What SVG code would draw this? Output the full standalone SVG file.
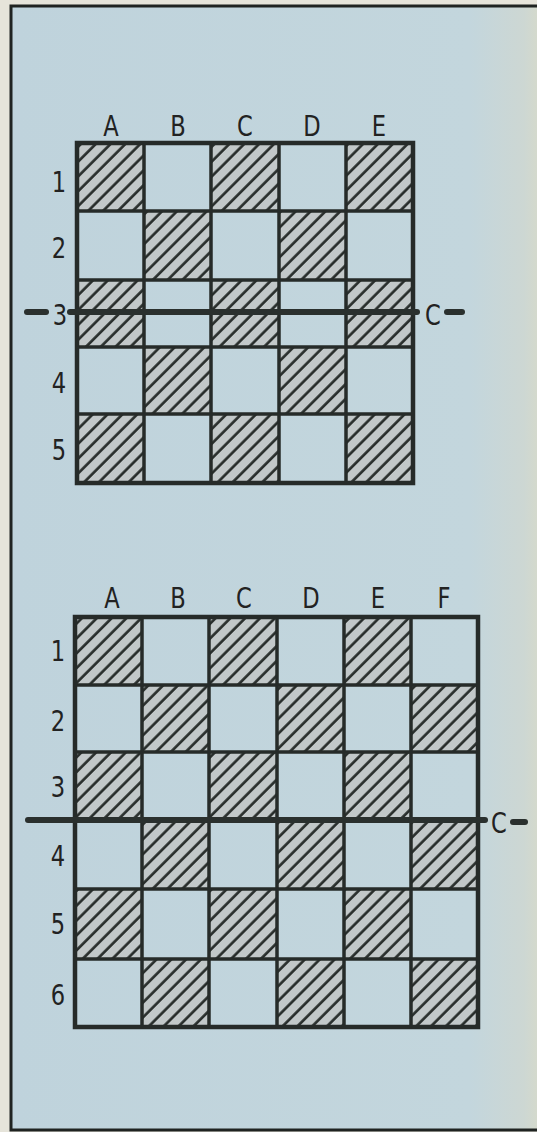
<svg xmlns="http://www.w3.org/2000/svg" width="537" height="1132" viewBox="0 0 537 1132">
<defs>
<linearGradient id="bg" x1="0" y1="0" x2="1" y2="0">
<stop offset="0" stop-color="#bfd3dc"/>
<stop offset="0.85" stop-color="#c3d6dd"/>
<stop offset="0.95" stop-color="#cdd7d3"/>
<stop offset="1" stop-color="#dcdcc6"/>
</linearGradient>
<pattern id="hatch" patternUnits="userSpaceOnUse" width="10.5" height="10.5" patternTransform="rotate(45)">
<rect width="10.5" height="10.5" fill="#c2c8c9"/>
<line x1="1.5" y1="0" x2="1.5" y2="10.5" stroke="#252a28" stroke-width="2.6"/>
</pattern>
</defs>
<style>
.h{fill:url(#hatch)}
.g{fill:none;stroke:#262b29;stroke-width:3.5}
.o{fill:none;stroke:#262b29;stroke-width:4.5}
.cut{stroke:#2a302e;stroke-width:6;stroke-linecap:round}
text{font-family:"DejaVu Sans",sans-serif;font-size:29px;fill:#222;text-anchor:middle}
</style>
<rect width="537" height="1132" fill="#e6e4da"/>
<rect x="11" y="6" width="540" height="1124" fill="url(#bg)" stroke="#1f2321" stroke-width="3"/>

<g id="grid1">
<rect class="h" x="77" y="143" width="67" height="68"/>
<rect class="h" x="211" y="143" width="68" height="68"/>
<rect class="h" x="346" y="143" width="67" height="68"/>
<rect class="h" x="144" y="211" width="67" height="69"/>
<rect class="h" x="279" y="211" width="67" height="69"/>
<rect class="h" x="77" y="280" width="67" height="67"/>
<rect class="h" x="211" y="280" width="68" height="67"/>
<rect class="h" x="346" y="280" width="67" height="67"/>
<rect class="h" x="144" y="347" width="67" height="67"/>
<rect class="h" x="279" y="347" width="67" height="67"/>
<rect class="h" x="77" y="414" width="67" height="69"/>
<rect class="h" x="211" y="414" width="68" height="69"/>
<rect class="h" x="346" y="414" width="67" height="69"/>
<path class="g" d="M144 143V483M211 143V483M279 143V483M346 143V483M77 211H413M77 280H413M77 347H413M77 414H413"/>
<rect class="o" x="77" y="143" width="336" height="340"/>
<text transform="translate(111 136) scale(0.78 1)">A</text>
<text transform="translate(178 136) scale(0.78 1)">B</text>
<text transform="translate(245 136) scale(0.78 1)">C</text>
<text transform="translate(312 136) scale(0.78 1)">D</text>
<text transform="translate(379 136) scale(0.78 1)">E</text>
<text transform="translate(59 192) scale(0.78 1)">1</text>
<text transform="translate(59 258) scale(0.78 1)">2</text>
<text transform="translate(60 325) scale(0.78 1)">3</text>
<text transform="translate(59 393) scale(0.78 1)">4</text>
<text transform="translate(59 460) scale(0.78 1)">5</text>
</g>

<g id="grid2">
<rect class="h" x="75" y="617" width="67" height="68"/>
<rect class="h" x="209" y="617" width="68" height="68"/>
<rect class="h" x="344" y="617" width="67" height="68"/>
<rect class="h" x="142" y="685" width="67" height="67"/>
<rect class="h" x="277" y="685" width="67" height="67"/>
<rect class="h" x="411" y="685" width="67" height="67"/>
<rect class="h" x="75" y="752" width="67" height="67"/>
<rect class="h" x="209" y="752" width="68" height="67"/>
<rect class="h" x="344" y="752" width="67" height="67"/>
<rect class="h" x="142" y="819" width="67" height="70"/>
<rect class="h" x="277" y="819" width="67" height="70"/>
<rect class="h" x="411" y="819" width="67" height="70"/>
<rect class="h" x="75" y="889" width="67" height="70"/>
<rect class="h" x="209" y="889" width="68" height="70"/>
<rect class="h" x="344" y="889" width="67" height="70"/>
<rect class="h" x="142" y="959" width="67" height="68"/>
<rect class="h" x="277" y="959" width="67" height="68"/>
<rect class="h" x="411" y="959" width="67" height="68"/>
<path class="g" d="M142 617V1027M209 617V1027M277 617V1027M344 617V1027M411 617V1027M75 685H478M75 752H478M75 819H478M75 889H478M75 959H478"/>
<rect class="o" x="75" y="617" width="403" height="410"/>
<text transform="translate(112 608) scale(0.78 1)">A</text>
<text transform="translate(178 608) scale(0.78 1)">B</text>
<text transform="translate(244 608) scale(0.78 1)">C</text>
<text transform="translate(311 608) scale(0.78 1)">D</text>
<text transform="translate(378 608) scale(0.78 1)">E</text>
<text transform="translate(444 608) scale(0.78 1)">F</text>
<text transform="translate(58 661) scale(0.78 1)">1</text>
<text transform="translate(58 731) scale(0.78 1)">2</text>
<text transform="translate(58 797) scale(0.78 1)">3</text>
<text transform="translate(58 866) scale(0.78 1)">4</text>
<text transform="translate(58 934) scale(0.78 1)">5</text>
<text transform="translate(58 1005) scale(0.78 1)">6</text>
</g>

<g id="connectors">
<line class="cut" x1="27" y1="312" x2="46" y2="312"/>
<line class="cut" x1="70" y1="312" x2="417" y2="312"/>
<line class="cut" x1="447" y1="312" x2="462" y2="312"/>
<line class="cut" x1="28" y1="820" x2="485" y2="820"/>
<line class="cut" x1="513" y1="822" x2="525" y2="822"/>
</g>
<g id="labels">
<text transform="translate(433 325) scale(0.78 1)">C</text>
<text transform="translate(499 833) scale(0.78 1)">C</text>
</g>
</svg>
